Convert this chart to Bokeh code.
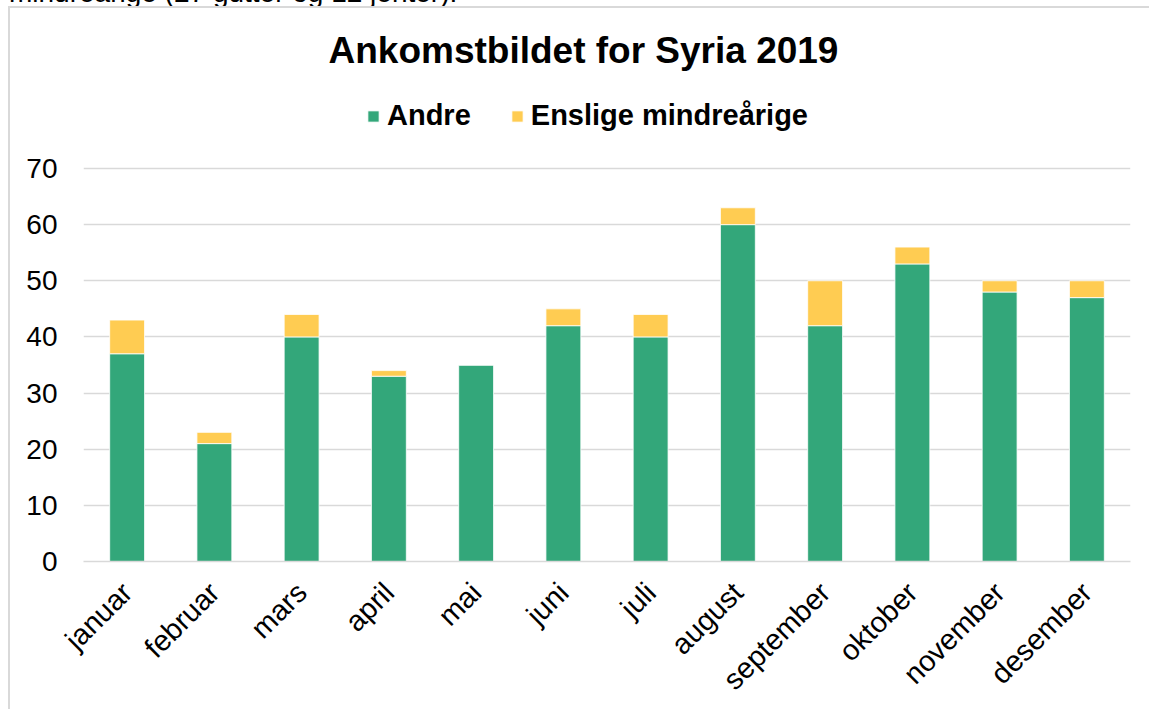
import math
from bokeh.plotting import figure
from bokeh.layouts import column
from bokeh.models import ColumnDataSource, Legend, LegendItem, FixedTicker, Div
from bokeh.embed import file_html
from bokeh.resources import INLINE

months = ["januar", "februar", "mars", "april", "mai", "juni", "juli",
          "august", "september", "oktober", "november", "desember"]
andre = [37, 21, 40, 33, 35, 42, 40, 60, 42, 53, 48, 47]
enslige = [6, 2, 4, 1, 0, 3, 4, 3, 8, 3, 2, 3]
series_names = ["Andre", "Enslige mindreårige"]
colors = ["#33a77a", "#ffcc52"]
title_text = "Ankomstbildet for Syria 2019"
y_ticks = [0, 10, 20, 30, 40, 50, 60, 70]
above_text = "mindreårige (27 gutter og 12 jenter)."

src = ColumnDataSource(dict(month=months, andre=andre, enslige=enslige))

FONT = "Liberation Sans"

# extra headroom above 70 holds the legend (no ticks/grid there)
p = figure(x_range=months, y_range=(0, 85.67), width=1141, height=703,
           output_backend="svg", toolbar_location=None,
           min_border_left=73, min_border_right=21, min_border_top=72,
           min_border_bottom=150)
p.styles = {"border-left": "2px solid #d9d9d9", "border-top": "2px solid #d9d9d9"}
p.margin = (0, 0, 0, 8)

rs = p.vbar_stack(["andre", "enslige"], x="month", width=0.4, color=colors,
                  line_color="white", line_width=0.8, source=src)

legend = Legend(items=[LegendItem(label=series_names[0], renderers=[rs[0]]),
                       LegendItem(label=series_names[1], renderers=[rs[1]])],
                orientation="horizontal", location=(283, 429))
legend.label_text_font = FONT
legend.label_text_font_size = "29px"
legend.label_text_font_style = "bold"
legend.label_text_color = "#000000"
legend.glyph_width = 14
legend.glyph_height = 14
legend.label_standoff = 7
legend.spacing = 39
legend.border_line_color = None
legend.background_fill_alpha = 0
legend.padding = 0
legend.margin = 0
p.add_layout(legend, "center")

p.title.text = title_text
p.title.align = "left"
p.title.offset = 245
p.title.text_font = FONT
p.title.text_font_size = "37px"
p.title.text_font_style = "bold"
p.title.text_color = "#000000"
p.title.standoff = 20

p.yaxis.ticker = FixedTicker(ticks=y_ticks)
p.yaxis.axis_line_color = None
p.yaxis.major_tick_line_color = None
p.yaxis.minor_tick_line_color = None
p.yaxis.major_label_text_font = FONT
p.yaxis.major_label_text_font_size = "28px"
p.yaxis.major_label_text_color = "#000000"
p.yaxis.major_label_standoff = 20

p.xaxis.axis_line_color = "#d9d9d9"
p.xaxis.axis_line_width = 1.5
p.xaxis.major_tick_line_color = None
p.xaxis.major_label_orientation = math.pi / 4
p.xaxis.major_label_text_font = FONT
p.xaxis.major_label_text_font_size = "29px"
p.xaxis.major_label_text_color = "#000000"
p.xaxis.major_label_standoff = 20

p.xgrid.grid_line_color = None
p.ygrid.grid_line_color = "#d9d9d9"
p.ygrid.grid_line_width = 1.5
p.outline_line_color = None
p.x_range.range_padding = 0

div = Div(text=("<div style=\"position:relative; top:-21px; left:9px; "
                "font-family:'Liberation Sans'; font-size:28px; line-height:28px; "
                "white-space:nowrap; color:#000;\">" + above_text + "</div>"),
          width=600, height=6, margin=0, styles={"overflow": "visible"})

layout = column(div, p, spacing=0)

open("out.html", "w").write(file_html(layout, INLINE))
